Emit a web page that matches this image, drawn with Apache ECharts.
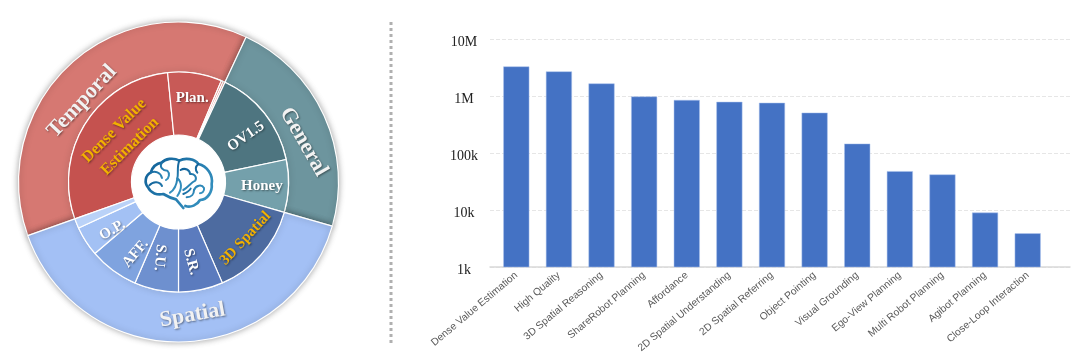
<!DOCTYPE html>
<html>
<head>
<meta charset="utf-8">
<title>chart</title>
<script src="https://cdn.jsdelivr.net/npm/echarts@6/dist/echarts.min.js"></script>
<style>
html, body { margin: 0; padding: 0; background: #fff; }
#main { width: 1080px; height: 362px; }
</style>
</head>
<body>
<div id="main"></div>
<script>
// bar chart
var categories = ['Dense Value Estimation', 'High Quality', '3D Spatial Reasoning', 'ShareRobot Planning', 'Affordance',
    '2D Spatial Understanding', '2D Spatial Referring', 'Object Pointing', 'Visual Grounding', 'Ego-View Planning',
    'Multi Robot Planning', 'Agibot Planning', 'Close-Loop Interaction'];
var counts = [3300000, 2700000, 1660000, 980000, 850000, 790000, 760000, 510000, 146000, 48000, 42000, 9000, 3900];
var tickValues = [1000, 10000, 100000, 1000000, 10000000];
var tickLabels = ['1k', '10k', '100k', '1M', '10M'];

// ring shares, in degrees of the circle
var temporalNames = ['Dense Value\nEstimation', 'Plan.', '', ''];
var temporalShares = [103.9, 28.6, 1.1, 1.0];
var generalNames = ['OV1.5', 'Honey'];
var generalShares = [53.2, 27.8];
var spatialNames = ['3D Spatial', 'S.R.', 'S.U.', 'AFF.', 'O.P.', ''];
var spatialShares = [50.5, 23.5, 23.3, 26.2, 15.8, 5.1];

var serif = '"Liberation Serif", "DejaVu Serif", serif';

function child(name, value, color, rotate, textColor) {
    return {
        name: name,
        value: value,
        itemStyle: {color: color},
        label: {rotate: rotate, color: textColor || '#fff'}
    };
}

var denseNode = child(temporalNames[0], temporalShares[0], '#C5524F', 45, '#F2B100');
denseNode.label.fontSize = 16;

var ringData = [
    {
        name: 'Temporal',
        itemStyle: {color: '#D67872'},
        label: {rotate: 47},
        children: [
            denseNode,
            child(temporalNames[1], temporalShares[1], '#C85A57', 0),
            child(temporalNames[2], temporalShares[2], '#D67872', 0),
            child(temporalNames[3], temporalShares[3], '#D67872', 0)
        ]
    },
    {
        name: 'General',
        itemStyle: {color: '#6D959E'},
        label: {rotate: -60},
        children: [
            child(generalNames[0], generalShares[0], '#4E7580', 35),
            child(generalNames[1], generalShares[1], '#74A0AB', 0)
        ]
    },
    {
        name: 'Spatial',
        itemStyle: {color: '#A3C0F5'},
        label: {rotate: 10},
        children: [
            child(spatialNames[0], spatialShares[0], '#4D6BA0', 47, '#F2B100'),
            child(spatialNames[1], spatialShares[1], '#5B7BBE', -75),
            child(spatialNames[2], spatialShares[2], '#6E90CF', -95),
            child(spatialNames[3], spatialShares[3], '#7FA3DF', 50),
            child(spatialNames[4], spatialShares[4], '#A3C1F4', 30),
            child(spatialNames[5], spatialShares[5], '#BAD2F8', 0)
        ]
    }
];

// nudges for the ring labels, they do not sit on the middle of their slices
var labelShift = {
    'Temporal': [-18, 9],
    'General': [15, 6],
    'Spatial': [10, 0],
    'Dense Value\nEstimation': [8, 6],
    'Plan.': [2, -6],
    'OV1.5': [3, 6],
    'Honey': [5, 1],
    '3D Spatial': [2, 9],
    'S.R.': [2, 4],
    'S.U.': [-1, 3],
    'AFF.': [-4, 8],
    'O.P.': [-3, 5]
};

var brainColor = new echarts.graphic.LinearGradient(0, 0, 1, 1, [
    {offset: 0, color: '#0E5E96'},
    {offset: 1, color: '#3A97C4'}
]);
var brainPaths = [
    'M190 294 L168 268 C150 264 140 258 130 252 C112 256 92 250 84 232 C72 218 76 196 92 188 C98 170 112 160 125 158 C135 146 160 142 178 152 C195 142 225 146 235 162 C262 168 280 196 275 222 C278 245 262 270 240 270 C232 285 212 294 196 288',
    'M178 152 C170 170 176 190 172 205 C170 225 162 240 150 248',
    'M92 188 C104 182 122 186 126 204 M125 158 C118 172 128 182 142 182 C150 190 148 204 138 210',
    'M88 226 C100 212 120 214 126 228 M172 205 C185 215 188 235 172 258',
    'M182 180 C195 172 210 180 210 192 C222 190 232 200 226 212 C212 218 205 232 190 240',
    'M235 162 C226 170 226 180 232 188 M222 240 C228 226 245 222 252 234 C254 244 246 250 240 250',
    'M200 262 C215 262 222 252 222 240 M190 252 C200 248 208 244 212 236'
];
// the graphic component only knows registered shapes
brainPaths.forEach(function (d, i) {
    echarts.graphic.registerShape('brain' + i, echarts.graphic.extendPath(d, {}));
});

var chart = echarts.init(document.getElementById('main'));

var option = {
    animation: false,
    backgroundColor: '#fff',
    grid: [
        {left: 490, right: 10, top: 39, height: 228},
        {left: 495, width: 554, top: 39, height: 228}
    ],
    xAxis: [
        {
            gridIndex: 0,
            type: 'category',
            data: [''],
            axisLine: {lineStyle: {color: '#D9D9D9', width: 1.5}},
            axisTick: {show: false},
            axisLabel: {show: false}
        },
        {
            gridIndex: 1,
            type: 'category',
            data: categories,
            axisLine: {show: false},
            axisTick: {show: false},
            axisLabel: {
                interval: 0,
                rotate: 40,
                margin: 7,
                color: '#595959',
                fontSize: 10.3,
                fontFamily: '"Liberation Sans", Arial, sans-serif'
            }
        }
    ],
    yAxis: [
        {
            gridIndex: 0,
            type: 'log',
            min: tickValues[0],
            max: tickValues[tickValues.length - 1],
            axisLine: {show: false},
            axisTick: {show: false},
            splitLine: {lineStyle: {color: '#E6E6E6', type: 'dashed'}},
            axisLabel: {
                align: 'center',
                verticalAlign: 'top',
                lineHeight: 6,
                margin: 26,
                color: '#222',
                fontSize: 14,
                fontFamily: serif,
                formatter: function (val) {
                    return tickLabels[tickValues.indexOf(Math.round(val))];
                }
            }
        },
        {
            gridIndex: 1,
            type: 'log',
            min: tickValues[0],
            max: tickValues[tickValues.length - 1],
            show: false
        }
    ],
    series: [
        {
            type: 'bar',
            xAxisIndex: 1,
            yAxisIndex: 1,
            data: counts,
            barWidth: 26,
            itemStyle: {color: '#4472C4', borderColor: '#A9C1EC', borderWidth: 0.5}
        },
        {
            type: 'sunburst',
            center: [178.5, 182],
            radius: [47, 160],
            startAngle: 199.6,
            sort: null,
            nodeClick: false,
            data: ringData,
            emphasis: {focus: 'none'},
            itemStyle: {borderColor: '#fff', borderWidth: 1.2},
            label: {
                fontFamily: serif,
                fontWeight: 'bold',
                color: '#fff',
                textShadowColor: 'rgba(0,0,0,0.45)',
                textShadowBlur: 2,
                textShadowOffsetX: 1,
                textShadowOffsetY: 1
            },
            labelLayout: function (params) {
                var shift = labelShift[params.text];
                return shift ? {dx: shift[0], dy: shift[1]} : {};
            },
            levels: [
                {},
                {
                    r0: 110,
                    r: 160,
                    label: {fontSize: 22, color: '#F2F2F2'},
                    itemStyle: {shadowBlur: 6, shadowColor: 'rgba(0,0,0,0.35)'}
                },
                {
                    r0: 47,
                    r: 110,
                    label: {fontSize: 15, lineHeight: 22}
                }
            ]
        }
    ],
    graphic: [
        {
            type: 'line',
            shape: {x1: 391, y1: 22, x2: 391, y2: 345},
            style: {stroke: '#B0B0B0', lineWidth: 3, lineDash: [3, 3]},
            silent: true
        },
        {
            type: 'circle',
            shape: {cx: 179, cy: 182, r: 46},
            style: {fill: '#fff'},
            silent: true,
            z: 50
        },
        {
            type: 'group',
            x: 120,
            y: 110,
            scaleX: 1 / 3,
            scaleY: 1 / 3,
            silent: true,
            z: 51,
            children: brainPaths.map(function (d, i) {
                return {
                    type: 'brain' + i,
                    z: 51,
                    style: {fill: 'none', stroke: brainColor, lineWidth: i == 0 ? 8 : 6, lineCap: 'round', lineJoin: 'round'}
                };
            })
        }
    ]
};

chart.setOption(option);
</script>
</body>
</html>
